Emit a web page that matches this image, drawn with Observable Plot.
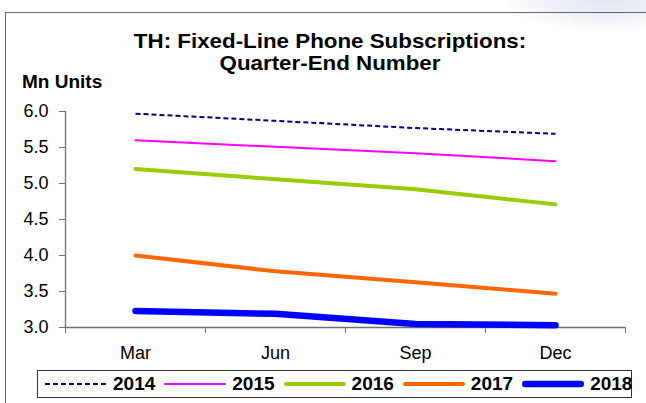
<!DOCTYPE html>
<html>
<head>
<meta charset="utf-8">
<script src="https://cdn.jsdelivr.net/npm/d3@7"></script>
<script src="https://cdn.jsdelivr.net/npm/@observablehq/plot@0.6"></script>
<style>
  html, body { margin: 0; padding: 0; background: #fff; }
  #page { position: relative; width: 646px; height: 403px; overflow: hidden; font-family: "Liberation Sans", Arial, sans-serif; }
  #glow { position: absolute; right: -60px; top: -40px; width: 200px; height: 70px; background: radial-gradient(ellipse at center, #dfe5f1 0%, #eef1f8 45%, rgba(255,255,255,0) 75%); }
  #frame { position: absolute; left: 5px; top: 12px; width: 700px; height: 500px; border-top: 1.5px solid #666; border-left: 1.5px solid #666; }
  #chart { position: absolute; left: 0; top: 0; }
  #title { position: absolute; left: 130px; top: 30px; width: 400px; text-align: center; font-weight: bold; font-size: 20.5px; line-height: 22.4px; color: #000; transform: scaleX(1.09); transform-origin: 200px 0; }
  #unit { position: absolute; left: 22px; top: 72px; font-weight: bold; font-size: 19px; line-height: 19px; color: #000; }
  #legend { position: absolute; left: 37px; top: 370px; width: 595px; height: 28px; border: 1px solid #333; box-sizing: border-box; display: flex; align-items: center; padding-left: 7px; background: #fff; }
  .item { display: flex; align-items: center; margin-right: 9px; }
  .item svg { display: block; margin-right: 6px; }
  .item span { font-weight: bold; font-size: 19px; color: #000; }
</style>
</head>
<body>
<div id="page">
  <div id="glow"></div>
  <div id="frame"></div>
  <div id="chart"></div>
  <div id="title">TH: Fixed-Line Phone Subscriptions:<br>Quarter-End Number</div>
  <div id="unit">Mn Units</div>
  <div id="legend"></div>
</div>
<script>
// ---- data ----
const months = ["Mar", "Jun", "Sep", "Dec"];
const years = ["2014", "2015", "2016", "2017", "2018"];
const v2014 = [5.97, 5.87, 5.77, 5.69];
const v2015 = [5.60, 5.51, 5.42, 5.31];
const v2016 = [5.20, 5.06, 4.92, 4.71];
const v2017 = [4.00, 3.78, 3.63, 3.47];
const v2018 = [3.23, 3.19, 3.05, 3.03];
const yTicks = [3.0, 3.5, 4.0, 4.5, 5.0, 5.5, 6.0];

const seriesValues = [v2014, v2015, v2016, v2017, v2018];
const styles = {
  "2014": {stroke: "#000080", strokeWidth: 2, strokeDasharray: "5,3", strokeLinecap: "butt"},
  "2015": {stroke: "#ff00ff", strokeWidth: 2, strokeLinecap: "round"},
  "2016": {stroke: "#99cc00", strokeWidth: 4, strokeLinecap: "round"},
  "2017": {stroke: "#ff6600", strokeWidth: 4, strokeLinecap: "round"},
  "2018": {stroke: "#0000ff", strokeWidth: 6.5, strokeLinecap: "round"}
};
const rows = years.map((y, k) => seriesValues[k].map((v, i) => ({year: y, i, v})));
const boundaries = d3.range(months.length + 1).map(d => d - 0.5);

const axisColor = "#707070";
const chart = Plot.plot({
  width: 646,
  height: 367,
  marginTop: 111,
  marginBottom: 40,
  marginLeft: 65,
  marginRight: 21,
  style: {fontFamily: "'Liberation Sans', Arial, sans-serif", fontSize: "18px", color: "#000", background: "transparent", overflow: "visible"},
  x: {domain: [-0.5, months.length - 0.5], axis: null},
  y: {domain: [3, 6], axis: null},
  marks: [
    Plot.axisY({ticks: yTicks, tickFormat: d3.format(".1f"), tickSize: 6, tickPadding: 11, stroke: axisColor, label: null}),
    Plot.axisX({ticks: boundaries, tickFormat: () => "", tickSize: 6, stroke: axisColor, label: null}),
    Plot.axisX({ticks: d3.range(months.length), tickFormat: i => months[i], tickSize: 0, tickPadding: 19, label: null}),
    Plot.ruleX([-0.5], {y1: 3, y2: 6, stroke: axisColor, strokeWidth: 1.3}),
    Plot.ruleY([3], {stroke: axisColor, strokeWidth: 1.3}),
    ...years.map((y, k) => Plot.line(rows[k], {x: "i", y: "v", ...styles[y]}))
  ]
});
document.getElementById("chart").appendChild(chart);

// ---- legend ----
const legend = document.getElementById("legend");
years.forEach(y => {
  const s = styles[y];
  const item = document.createElement("div");
  item.className = "item";
  const svg = d3.create("svg").attr("width", 62).attr("height", 10);
  svg.append("line").attr("x1", s.strokeLinecap === "round" ? s.strokeWidth / 2 : 0)
    .attr("x2", s.strokeLinecap === "round" ? 62 - s.strokeWidth / 2 : 62)
    .attr("y1", 5).attr("y2", 5)
    .attr("stroke", s.stroke).attr("stroke-width", s.strokeWidth)
    .attr("stroke-dasharray", s.strokeDasharray || null)
    .attr("stroke-linecap", s.strokeLinecap);
  item.appendChild(svg.node());
  const t = document.createElement("span");
  t.textContent = y;
  item.appendChild(t);
  legend.appendChild(item);
});
</script>
</body>
</html>
